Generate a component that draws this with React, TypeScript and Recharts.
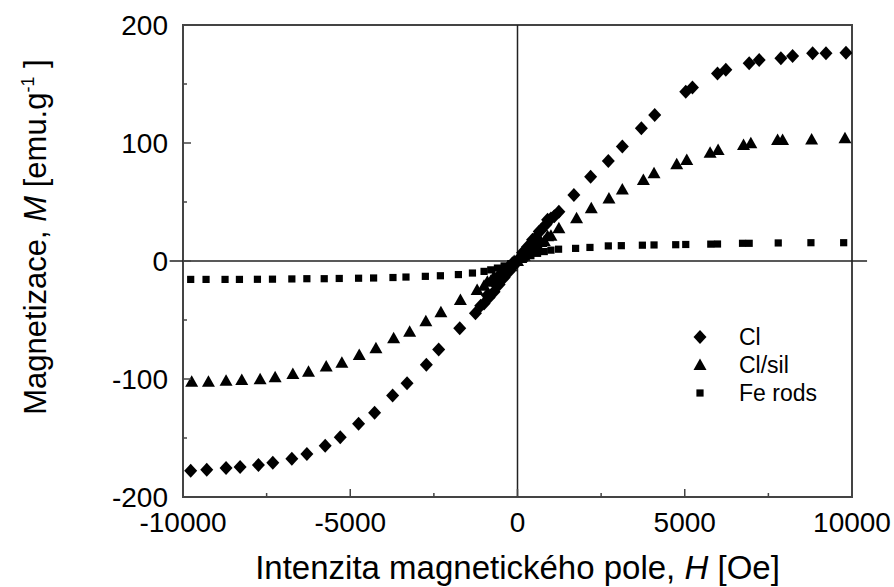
import React from 'react';
import {
  ScatterChart, Scatter, XAxis, YAxis, ReferenceLine, ReferenceArea,
} from 'recharts';

// ---- data (H in Oe, M in emu/g) ----
const H_CL = [-9770, -9290, -8713, -8293, -7745, -7315, -6746, -6297, -5749, -5299, -4751, -4272, -3733, -3302, -2725, -2356, -1727, -1257,
  -1100, -1000, -900, -850, -700, -650, -550, -450, -400, -300, -250, -150, -100, 0, 100, 150, 250, 300, 400, 450, 550, 650, 700, 850, 900, 1000, 1100,
  1237, 1686, 2186, 2715, 3134, 3703, 4102, 5030, 5230, 5979, 6228, 6926, 7225, 7874, 8224, 8823, 9222, 9820];
const M_CL = [-177.7, -177, -175.4, -174.6, -172.9, -170.9, -167.5, -163.6, -156.5, -149.4, -138, -128.5, -114, -103.7, -88, -74.9, -57, -44.3,
  -38, -36, -29, -31, -26, -20, -20, -13, -14, -8, -9, -2, -3.5, 0, 3.5, 7, 9, 12, 14, 18, 20, 25, 26, 31, 35, 36, 38,
  41.8, 55.9, 71.5, 84.7, 97, 112.4, 123.7, 143.5, 147, 159, 162, 167.5, 170.3, 171.8, 173.7, 176, 176, 176.5];

const H_SIL = [-9740, -9240, -8713, -8243, -7695, -7246, -6716, -6248, -5719, -5250, -4731, -4232, -3703, -3224, -2740, -2290, -1707, -1207,
  -1000, -900, -800, -700, -600, -500, -400, -300, -200, -100, 0, 100, 200, 300, 400, 500, 600, 700, 800, 900, 1000,
  1237, 1766, 2206, 2734, 3134, 3763, 4082, 4760, 5060, 5758, 5997, 6757, 6976, 7775, 7925, 8793, 9790];
const M_SIL = [-102.3, -102.3, -101.4, -100.8, -100.3, -98.6, -95.8, -93.8, -89.5, -86.2, -79.7, -74, -65.5, -60, -51, -43.5, -33, -24.6,
  -21, -17.5, -17, -13, -13, -9, -8.5, -5, -4.5, 0, 0, 2.5, 4.5, 8, 8.5, 12, 13, 16, 17, 21, 21.5,
  27.7, 36.2, 44.6, 53, 60.5, 68.6, 74.3, 82, 85.6, 91.8, 94, 98.3, 99.7, 102.5, 102.5, 103, 104];

const H_FE = [-9770, -9311, -8743, -8313, -7775, -7325, -6746, -6297, -5778, -5329, -4751, -4302, -3723, -3334, -2755, -2305, -1767, -1347, -1000,
  -800, -600, -400, -200, 0, 200, 400, 600, 800, 1000,
  1228, 1737, 2166, 2715, 3104, 3733, 4082, 4730, 5030, 5778, 5979, 6727, 6926, 7795, 8772, 9751];
const M_FE = [-15.6, -15.6, -15.6, -15.6, -15.5, -15.4, -15.2, -15, -15, -14.8, -14.6, -14.4, -14, -13.6, -13, -12.5, -11.5, -10.2, -8.8,
  -7.5, -6, -4.2, -2.2, 0, 2.3, 4.5, 6.5, 8, 9.2,
  10, 10.7, 11.5, 12.8, 13, 13.4, 13.6, 13.8, 14, 14.3, 14.4, 15, 15, 15.3, 15.5, 15.5];

const X_TICKS = [-10000, -7500, -5000, -2500, 0, 2500, 5000, 7500, 10000];
const Y_TICKS = [-200, -150, -100, -50, 0, 50, 100, 150, 200];
const SERIES_NAMES = ['Cl', 'Cl/sil', 'Fe rods'];

const toPoints = (hs: number[], ms: number[]) => hs.map((h, i) => ({ h, m: ms[i] }));
const dataCl = toPoints(H_CL, M_CL);
const dataSil = toPoints(H_SIL, M_SIL);
const dataFe = toPoints(H_FE, M_FE);

const FONT = "'Liberation Sans', Arial, Helvetica, sans-serif";

// ---- marker shapes ----
const Diamond = (p: any) => {
  const { cx, cy } = p;
  return <polygon points={`${cx},${cy - 7} ${cx + 6.5},${cy} ${cx},${cy + 7} ${cx - 6.5},${cy}`} fill="#000" />;
};
const Triangle = (p: any) => {
  const { cx, cy } = p;
  return <polygon points={`${cx},${cy - 6.5} ${cx + 6.5},${cy + 5} ${cx - 6.5},${cy + 5}`} fill="#000" />;
};
const Square = (p: any) => {
  const { cx, cy } = p;
  return <rect x={cx - 3.6} y={cy - 3.6} width={7.2} height={7.2} fill="#000" />;
};

// ---- ticks (inward) ----
const XTick = (p: any) => {
  const { x, y, payload } = p;
  const v = payload.value;
  const major = v % 5000 === 0;
  return (
    <g>
      <line x1={x} y1={y} x2={x} y2={y - (major ? 8 : 4)} stroke="#444" strokeWidth={1.5} />
      {major && (
        <text x={x} y={y + 35} textAnchor="middle" fontSize={28} fontFamily={FONT} fill="#000">{v}</text>
      )}
    </g>
  );
};
const YTick = (p: any) => {
  const { x, y, payload } = p;
  const v = payload.value;
  const major = v % 100 === 0;
  return (
    <g>
      <line x1={x} y1={y} x2={x + (major ? 8 : 4)} y2={y} stroke="#444" strokeWidth={1.5} />
      {major && (
        <text x={x - 15} y={y + 9.5} textAnchor="end" fontSize={28} fontFamily={FONT} fill="#000">{v}</text>
      )}
    </g>
  );
};

const XTitle = (p: any) => {
  const vb = p.viewBox;
  return (
    <text x={vb.x + vb.width / 2} y={vb.y + 82} textAnchor="middle" fontSize={33} fontFamily={FONT} fill="#000">
      Intenzita magnetického pole, <tspan fontStyle="italic">H</tspan> [Oe]
    </text>
  );
};
const YTitle = (p: any) => {
  const vb = p.viewBox;
  const cx = 46;
  const cy = vb.y + vb.height / 2 - 24;
  return (
    <text transform={`translate(${cx},${cy}) rotate(-90)`} textAnchor="middle" fontSize={31} fontFamily={FONT} fill="#000">
      Magnetizace, <tspan fontStyle="italic">M</tspan> [emu.g<tspan fontSize={18} dy={-12}>-1</tspan><tspan dy={12}> ]</tspan>
    </text>
  );
};

const LegendBox = () => {
  const shapes = [Diamond, Triangle, Square];
  return (
    <svg width={170} height={90} style={{ position: 'absolute', left: 690, top: 322, display: 'block' }}>
      {SERIES_NAMES.map((n, i) => {
        const S = shapes[i];
        const cy = 15 + i * 28;
        return (
          <g key={n}>
            <S cx={10} cy={cy} />
            <text x={49} y={cy + 8} fontSize={23} fontFamily={FONT} fill="#000">{n}</text>
          </g>
        );
      })}
    </svg>
  );
};

export default function App() {
  return (
    <div style={{ position: 'absolute', left: 0, top: 0, width: 894, height: 587, background: '#fff' }}>
      <ScatterChart width={894} height={587} margin={{ top: 25, right: 42, bottom: 0, left: 0 }}>
        <XAxis
          type="number" dataKey="h" domain={[-10000, 10000]} ticks={X_TICKS} interval={0}
          height={90} axisLine={false} tickLine={false} tickSize={0} tickMargin={0}
          tick={<XTick />} label={{ content: XTitle }} allowDataOverflow
        />
        <YAxis
          type="number" dataKey="m" domain={[-200, 200]} ticks={Y_TICKS} interval={0}
          width={183} axisLine={false} tickLine={false} tickSize={0} tickMargin={0}
          tick={<YTick />} label={{ content: YTitle }} allowDataOverflow
        />
        <ReferenceArea x1={-10000} x2={10000} y1={-200} y2={200} fill="none" stroke="#444" strokeWidth={2} ifOverflow="visible" />
        <ReferenceLine x={0} stroke="#222" strokeWidth={1.5} />
        <ReferenceLine segment={[{ x: -10400, y: 0 }, { x: 10450, y: 0 }]} stroke="#222" strokeWidth={1.5} ifOverflow="visible" />
        <Scatter name="Cl" data={dataCl} shape={Diamond} isAnimationActive={false} />
        <Scatter name="Cl/sil" data={dataSil} shape={Triangle} isAnimationActive={false} />
        <Scatter name="Fe rods" data={dataFe} shape={Square} isAnimationActive={false} />
      </ScatterChart>
      <LegendBox />
    </div>
  );
}
